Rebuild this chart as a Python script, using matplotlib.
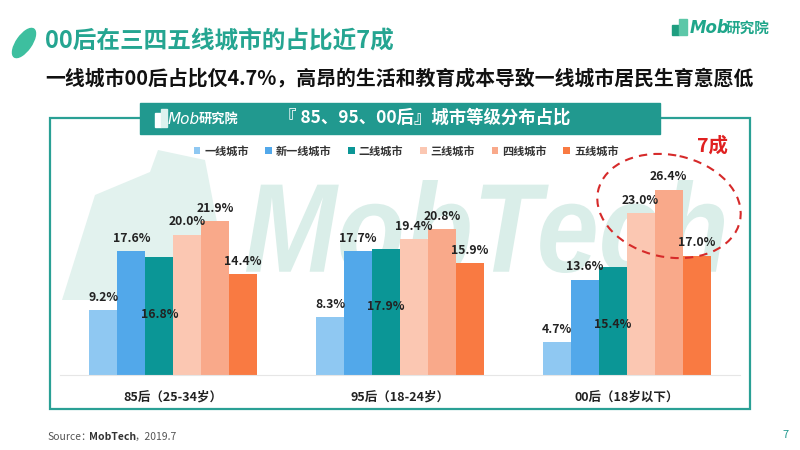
import matplotlib.pyplot as plt
import numpy as np
from matplotlib.patches import Rectangle, Ellipse, Polygon, PathPatch
from matplotlib.textpath import TextPath
from matplotlib.font_manager import FontProperties
from matplotlib.transforms import Affine2D

plt.rcParams['font.family'] = ['Noto Sans CJK SC', 'DejaVu Sans']

# data
groups = ['85后（25-34岁）', '95后（18-24岁）', '00后（18岁以下）']
tiers = ['一线城市', '新一线城市', '二线城市', '三线城市', '四线城市', '五线城市']
tier1 = [9.2, 8.3, 4.7]
new_tier1 = [17.6, 17.7, 13.6]
tier2 = [16.8, 17.9, 15.4]
tier3 = [20.0, 19.4, 23.0]
tier4 = [21.9, 20.8, 26.4]
tier5 = [14.4, 15.9, 17.0]
series = [tier1, new_tier1, tier2, tier3, tier4, tier5]
colors = ['#8FC8F2', '#52A8EA', '#0B9696', '#FBC7B2', '#F9A98A', '#F97A42']

TEAL = '#21998F'

fig = plt.figure(figsize=(8, 4.5), dpi=100)
fig.patch.set_facecolor('white')

# background layer, pixel coordinates
bg = fig.add_axes([0, 0, 1, 1])
bg.set_xlim(0, 800)
bg.set_ylim(450, 0)
bg.axis('off')
bg.set_zorder(0)

# title leaf + titles
bg.add_patch(Ellipse((24, 43), 34, 15, angle=-55, color='#3DBF9F'))
bg.text(45, 42, '00后在三四五线城市的占比近7成', fontsize=17, fontweight='bold',
        color='#25A591', va='center', ha='left')
bg.text(45, 78, '一线城市00后占比仅4.7%，高昂的生活和教育成本导致一线城市居民生育意愿低',
        fontsize=14.3, fontweight='bold', color='#111111', va='center', ha='left')

# top right logo
bg.add_patch(Rectangle((672, 25), 7, 10, color='#1E9E80'))
bg.add_patch(Rectangle((679, 19), 8, 16, color='#5CC7A8'))
bg.text(690, 28, 'Mob', fontsize=12, fontstyle='italic', fontweight='bold',
        color='#1FA68A', va='center', ha='left', family='DejaVu Sans')
bg.text(726, 28, '研究院', fontsize=10.5, fontweight='bold',
        color='#1FA68A', va='center', ha='left')

# frame + header bar
bg.add_patch(Rectangle((50, 118), 700, 291, fill=False, edgecolor='#2AA095', lw=1.6))
bg.add_patch(Rectangle((140, 103), 520, 31, color=TEAL))
bg.add_patch(Rectangle((155, 113), 6, 14, color='white'))
bg.add_patch(Rectangle((161, 109), 6, 18, color='#DDF2EE'))
bg.text(168, 119, 'Mob', fontsize=11, fontstyle='italic', color='white',
        va='center', ha='left', family='DejaVu Sans')
bg.text(199, 119, '研究院', fontsize=9.5, fontstyle='italic', fontweight='bold',
        color='white', va='center', ha='left')
bg.text(425, 118, '『 85、95、00后』城市等级分布占比', fontsize=12.5, fontweight='bold',
        color='white', va='center', ha='center')

# watermark, stretched to fit the box it has in the reference
bg.add_patch(Polygon([(62, 300), (95, 195), (150, 172), (158, 150), (205, 160),
                      (232, 300)], closed=True, color='#E2F2EE', lw=0))
tp = TextPath((0, 0), 'MobTech', size=100,
              prop=FontProperties(family='Liberation Sans', weight='bold', style='italic'))
ext = tp.get_extents()
sx = 478 / ext.width
sy = 93 / ext.height
tr = Affine2D().translate(-ext.x0, -ext.y0).scale(sx, -sy).translate(246, 273)
bg.add_patch(PathPatch(tr.transform_path(tp), color='#DAEEE9', lw=0))

# footer
bg.text(47, 437, 'Source：', fontsize=7.5, color='#555555', va='center', ha='left')
bg.text(89, 437, 'MobTech', fontsize=7.5, fontweight='bold', color='#333333',
        va='center', ha='left')
bg.text(135, 437, '，2019.7', fontsize=7.5, color='#555555', va='center', ha='left')
bg.text(786, 435, '7', fontsize=8, color=TEAL, va='center', ha='center')

# chart
ax = fig.add_axes([60 / 800, 1 - 375 / 450, 680 / 800, 257 / 450])
ax.set_zorder(1)
ax.patch.set_alpha(0)
x = np.arange(len(groups))
w = 0.1233
handles = []
for i, (vals, c) in enumerate(zip(series, colors)):
    pos = x + (i - 2.5) * w
    b = ax.bar(pos, vals, w, color=c, label=tiers[i])
    handles.append(b)
    for p, v in zip(pos, vals):
        if i == 2:
            ax.text(p, v - 8.2, f'{v:.1f}%', ha='center', va='center',
                    fontsize=8.8, fontweight='bold', color='#222222')
        else:
            ax.text(p, v + 1.8, f'{v:.1f}%', ha='center', va='center',
                    fontsize=8.8, fontweight='bold', color='#222222')

ax.set_xlim(-0.5, 2.5)
ax.set_ylim(0, 36.6)
ax.set_yticks([])
ax.set_xticks(x)
ax.set_xticklabels(groups, fontsize=9, fontweight='bold', color='#222222')
ax.tick_params(axis='x', length=0, pad=11)
for s in ['top', 'right', 'left']:
    ax.spines[s].set_visible(False)
ax.spines['bottom'].set_color('#E6E6E6')

fig.legend(handles=handles, labels=tiers, loc='center', ncol=6,
           bbox_to_anchor=(406 / 800, 1 - 151 / 450), frameon=False,
           prop={'size': 8, 'weight': 'bold'}, handlelength=0.6,
           handleheight=0.6, handletextpad=0.35, columnspacing=1.5,
           labelcolor='#333333')

# foreground annotations
fg = fig.add_axes([0, 0, 1, 1])
fg.set_xlim(0, 800)
fg.set_ylim(450, 0)
fg.axis('off')
fg.set_zorder(2)
fg.patch.set_alpha(0)
fg.add_patch(Ellipse((669, 206), 145, 102, angle=12, fill=False,
                     edgecolor='#D62A2A', lw=1.5, linestyle=(0, (4, 3))))
fg.text(713, 146, '7成', fontsize=14, fontweight='bold', color='#E02020',
        va='center', ha='center')

fig.savefig('out.png', dpi=100)
